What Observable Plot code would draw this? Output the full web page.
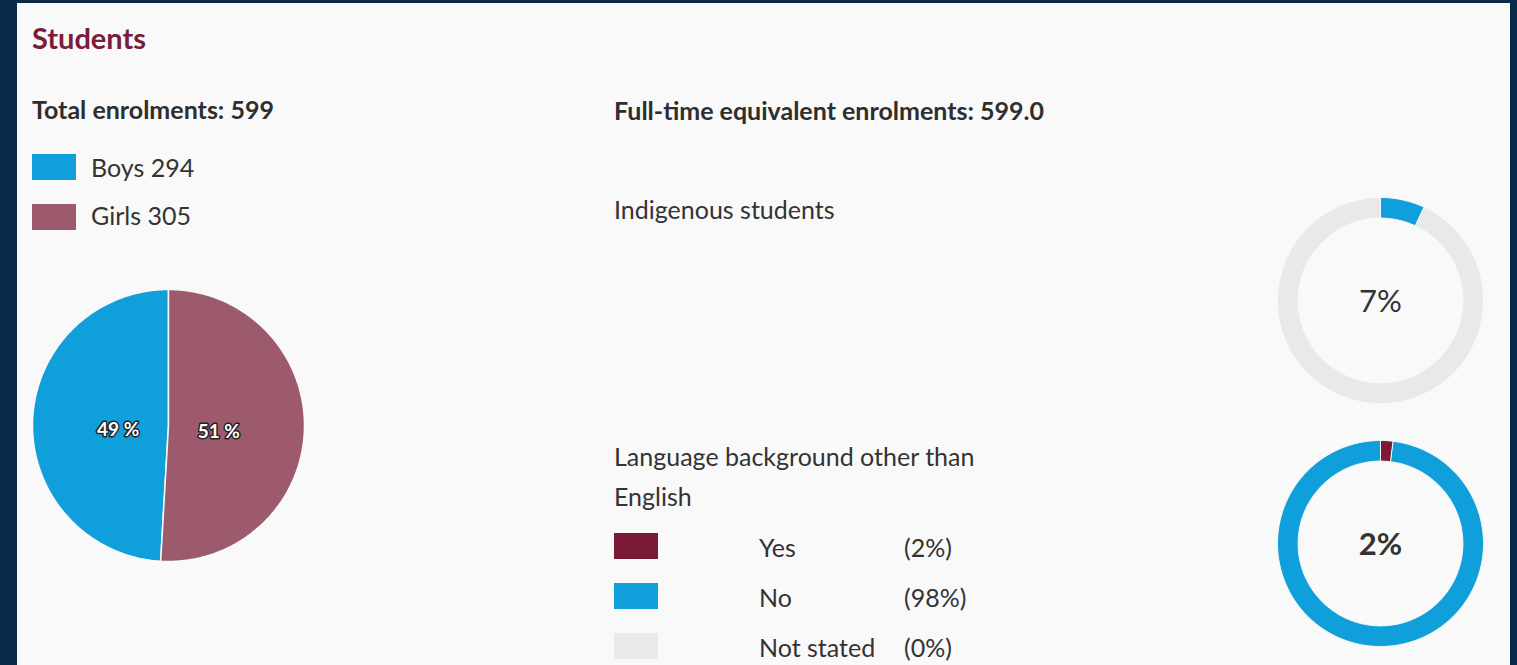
<!DOCTYPE html>
<html><head><meta charset="utf-8">
<script src="https://cdn.jsdelivr.net/npm/d3@7"></script>
<script src="https://cdn.jsdelivr.net/npm/@observablehq/plot@0.6"></script>
<style>
html,body{margin:0;padding:0;}
body{width:1517px;height:665px;background:#082a48;overflow:hidden;font-family:Lato,sans-serif;color:#333;position:relative;}
#panel{position:absolute;left:17px;top:3px;width:1493px;height:700px;background:#f9f9f9;}
.abs{position:absolute;white-space:nowrap;line-height:1.2;}
.sw{position:absolute;width:44px;height:26px;}
.chart{position:absolute;}
</style></head>
<body>
<div id="panel"></div>
<div id="root"></div>
<script>
// ---- data ----
const title = "Students";
const genderCategories = ["Boys", "Girls"];
const genderValues = [294, 305];
const fteLabel = "Full-time equivalent enrolments";
const fteValue = 599.0;
const indigenousLabel = "Indigenous students";
const indigenousCategories = ["Indigenous", "Non-Indigenous"];
const indigenousValues = [7, 93];
const languageLabel = "Language background other than English";
const languageCategories = ["Yes", "No", "Not stated"];
const languageValues = [2, 98, 0];

// ---- styles ----
const BLUE = "#0fa0dc", MAUVE = "#9d5a6c", MAROON = "#7a1a37", GREY = "#e9e9e9";
const root = document.getElementById("root");
function add(html, style, cls="abs"){const d=document.createElement("div");d.className=cls;d.style.cssText=style;d.innerHTML=html;root.appendChild(d);return d;}

// build ring/slice polygons from values
function slices(cats, vals, inner, order){
  const data = cats.map((c,i)=>({key:c, value:vals[i]}));
  const pie = d3.pie().sort(order ? (a,b)=>order.indexOf(a.key)-order.indexOf(b.key) : null).value(d=>d.value);
  const pts = [];
  const arcs = pie(data).filter(a=>a.data.value>0);
  for (const a of arcs){
    const n = Math.max(2, Math.ceil((a.endAngle-a.startAngle)/(Math.PI/180))+1);
    const outer = d3.range(n).map(i=>a.startAngle+(a.endAngle-a.startAngle)*i/(n-1));
    for (const t of outer) pts.push({key:a.data.key, x:Math.sin(t), y:Math.cos(t)});
    if (inner>0) for (const t of outer.slice().reverse()) pts.push({key:a.data.key, x:inner*Math.sin(t), y:inner*Math.cos(t)});
    else pts.push({key:a.data.key, x:0, y:0});
  }
  return {pts, arcs};
}

// header texts
add(title, "left:32px;top:21px;font-size:29px;font-weight:700;color:#7a1c3c");
const total = d3.sum(genderValues);
add(`Total enrolments: ${total}`, "left:32px;top:94px;font-size:25px;font-weight:700;color:#2e2e2e");
const gColors = [BLUE, MAUVE];
genderCategories.forEach((c,i)=>{
  add("", `left:32px;top:${154+i*50}px;background:${gColors[i]}`, "sw");
  add(`${c} ${genderValues[i]}`, `left:91px;top:${152+i*48}px;font-size:25px;`);
});

// pie
{
  const {pts, arcs} = slices(genderCategories, genderValues, 0, ["Girls","Boys"]);
  const labels = arcs.map(a=>{const m=(a.startAngle+a.endAngle)/2; return {x:0.37*Math.sin(m), y:0.37*Math.cos(m)-0.04, t:`${Math.round(a.data.value/total*100)} %`};});
  const p = Plot.plot({
    width:280, height:280, margin:4,
    x:{domain:[-1,1], axis:null}, y:{domain:[-1,1], axis:null},
    color:{domain:genderCategories, range:gColors},
    style:{background:"transparent", overflow:"visible"},
    marks:[
      Plot.line(pts, {x:"x", y:"y", z:"key", fill:"key", stroke:"#f9f9f9", strokeWidth:1.5, curve:"linear-closed"}),
      Plot.text(labels, {x:"x", y:"y", text:"t", fill:"white", stroke:"#222", strokeWidth:3, paintOrder:"stroke", fontSize:19, fontWeight:700, fontFamily:"Lato"})
    ]
  });
  p.classList.add("chart"); p.style.left="28px"; p.style.top="285px";
  root.appendChild(p);
}

// right column texts
add(`${fteLabel}: ${fteValue.toFixed(1)}`, "left:614px;top:95px;font-size:25px;font-weight:700;color:#2e2e2e");
add(indigenousLabel, "left:614px;top:194px;font-size:25px;");
add(languageLabel, "left:614px;top:436px;font-size:25px;line-height:40px;white-space:normal;width:380px;");
const lColors = [MAROON, BLUE, GREY];
const lTotal = d3.sum(languageValues);
languageCategories.forEach((c,i)=>{
  add("", `left:614px;top:${533+i*50}px;background:${lColors[i]}`, "sw");
  add(c, `left:759px;top:${532+i*50}px;font-size:25px;`);
  add(`(${Math.round(languageValues[i]/lTotal*100)}%)`, `left:904px;top:${532+i*50}px;font-size:25px;`);
});

function donut(cats, vals, colors, label, weight, left, top){
  const {pts} = slices(cats, vals, 0.8, null);
  const p = Plot.plot({
    width:212, height:212, margin:3,
    x:{domain:[-1,1], axis:null}, y:{domain:[-1,1], axis:null},
    color:{domain:cats, range:colors},
    style:{background:"transparent", overflow:"visible"},
    marks:[
      Plot.line(pts, {x:"x", y:"y", z:"key", fill:"key", stroke:"#f9f9f9", strokeWidth:1, curve:"linear-closed"}),
      Plot.text([label], {x:0, y:0, text:d=>d, fontSize:31, fontWeight:weight, fill:"#333", fontFamily:"Lato", dy:2})
    ]
  });
  p.classList.add("chart"); p.style.left=left+"px"; p.style.top=top+"px";
  root.appendChild(p);
}
const indTotal = d3.sum(indigenousValues);
donut(indigenousCategories, indigenousValues, [BLUE, GREY], `${Math.round(indigenousValues[0]/indTotal*100)}%`, 400, 1274, 194);
donut(languageCategories, languageValues, lColors, `${Math.round(languageValues[0]/lTotal*100)}%`, 700, 1274, 437);
</script>
</body></html>
